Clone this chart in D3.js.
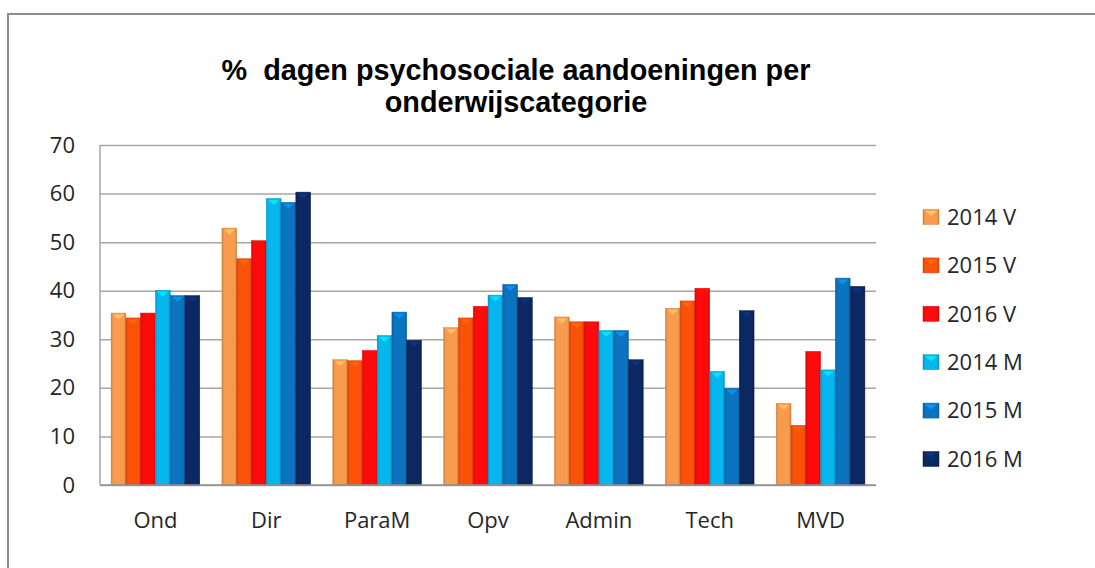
<!DOCTYPE html>
<html>
<head>
<meta charset="utf-8">
<script src="https://cdn.jsdelivr.net/npm/d3@7"></script>
<style>
  body { margin: 0; background: #fff; }
  text { font-family: 'Open Sans', sans-serif; fill: #262626; }
</style>
</head>
<body>
<svg id="chart" width="1095" height="568"></svg>
<script>
var categories = ['Ond', 'Dir', 'ParaM', 'Opv', 'Admin', 'Tech', 'MVD'];
var seriesNames = ['2014 V', '2015 V', '2016 V', '2014 M', '2015 M', '2016 M'];
var v2014V = [35.4, 52.9, 25.8, 32.4, 34.6, 36.4, 16.8];
var v2015V = [34.4, 46.6, 25.6, 34.4, 33.6, 37.9, 12.3];
var v2016V = [35.4, 50.3, 27.7, 36.8, 33.6, 40.5, 27.5];
var v2014M = [40.1, 59.0, 30.8, 39.1, 31.8, 23.4, 23.7];
var v2015M = [39.0, 58.2, 35.6, 41.3, 31.8, 19.9, 42.6];
var v2016M = [39.0, 60.3, 29.8, 38.6, 25.8, 35.9, 40.9];
var yTicks = [0, 10, 20, 30, 40, 50, 60, 70];
var colors = ['#f89b4e', '#fb520a', '#ff0a0a', '#06b6ee', '#0a74c0', '#0b2863'];

var seriesValues = [v2014V, v2015V, v2016V, v2014M, v2015M, v2016M];

var svg = d3.select('svg#chart');

// outer frame
svg.append('rect')
  .attr('x', 8)
  .attr('y', 14)
  .attr('width', 1100)
  .attr('height', 600)
  .style('fill', 'white')
  .style('stroke', '#8c8c8c')
  .style('stroke-width', 2);

var defs = svg.append('defs');
colors.forEach(function (c, i) {
  var g = defs.append('linearGradient')
    .attr('id', 'bar-grad-' + i)
    .attr('x1', '0%').attr('x2', '100%')
    .attr('y1', '0%').attr('y2', '0%');
  var dark = d3.color(c).darker(0.6);
  g.append('stop').attr('offset', '0%').attr('stop-color', dark);
  g.append('stop').attr('offset', '14%').attr('stop-color', c);
  g.append('stop').attr('offset', '86%').attr('stop-color', c);
  g.append('stop').attr('offset', '100%').attr('stop-color', dark);
});

var x0 = d3.scaleBand()
  .domain(categories)
  .range([100, 876])
  .paddingInner(0.2)
  .paddingOuter(0.1);

var x1 = d3.scaleBand()
  .domain(seriesNames)
  .range([0, x0.bandwidth()]);

var y = d3.scaleLinear()
  .domain([0, 70])
  .range([485, 145]);

// gridlines + y labels
var yAxis = svg.append('g')
  .attr('transform', 'translate(100,0)')
  .call(d3.axisLeft(y).tickValues(yTicks).tickSize(-776).tickPadding(25));
yAxis.select('.domain').remove();
yAxis.selectAll('.tick line')
  .style('stroke', '#a6a6a6')
  .style('stroke-width', 1.5);
yAxis.selectAll('.tick text')
  .style('font-size', '22px')
  .style('font-family', "'Open Sans', sans-serif")
  .style('fill', '#262626');

// bars
var groups = svg.selectAll('g.cat')
  .data(categories)
  .enter()
  .append('g')
    .attr('class', 'cat')
    .attr('transform', function (d) { return 'translate(' + x0(d) + ',0)'; });

var bars = groups.selectAll('g.bar')
  .data(function (d, ci) {
    return seriesNames.map(function (s, si) {
      return { series: s, idx: si, value: seriesValues[si][ci] };
    });
  })
  .enter()
  .append('g')
    .attr('class', 'bar');

bars.append('rect')
  .attr('x', function (d) { return x1(d.series); })
  .attr('y', function (d) { return y(d.value); })
  .attr('width', x1.bandwidth())
  .attr('height', function (d) { return y(0) - y(d.value); })
  .style('fill', function (d) { return 'url(#bar-grad-' + d.idx + ')'; })
  .style('stroke', function (d) { return d3.color(colors[d.idx]).darker(0.4); })
  .style('stroke-width', 0.5);

bars.append('path')
  .attr('d', function (d) {
    var bx = x1(d.series), w = x1.bandwidth(), ty = y(d.value);
    return 'M' + (bx + 2) + ',' + (ty + 1.5) +
      'L' + (bx + w - 2) + ',' + (ty + 1.5) +
      'L' + (bx + w / 2) + ',' + (ty + 6.5) + 'Z';
  })
  .style('fill', function (d) { return d3.color(colors[d.idx]).brighter(0.7); })
  .style('opacity', 0.9);

// axes lines
svg.append('line')
  .attr('x1', 100).attr('x2', 100)
  .attr('y1', y(70)).attr('y2', y(0))
  .style('stroke', '#a6a6a6')
  .style('stroke-width', 1.5);
svg.append('line')
  .attr('x1', 100).attr('x2', 876)
  .attr('y1', y(0)).attr('y2', y(0))
  .style('stroke', '#909090')
  .style('stroke-width', 1.5);

// x labels
svg.selectAll('text.cat-label')
  .data(categories)
  .enter()
  .append('text')
    .attr('class', 'cat-label')
    .attr('x', function (d) { return x0(d) + x0.bandwidth() / 2; })
    .attr('y', 528)
    .attr('text-anchor', 'middle')
    .style('font-size', '22px')
    .text(function (d) { return d; });

// title
var title = svg.append('text')
  .attr('x', 516)
  .attr('text-anchor', 'middle')
  .style('font-family', "'Liberation Sans', Arial, sans-serif")
  .style('font-weight', 'bold')
  .style('font-size', '28.8px')
  .style('fill', '#000');
title.append('tspan').attr('x', 516).attr('y', 80).text('%\u00a0 dagen psychosociale aandoeningen per');
title.append('tspan').attr('x', 516).attr('y', 112).text('onderwijscategorie');

// legend
var legend = svg.selectAll('g.legend')
  .data(seriesNames)
  .enter()
  .append('g')
    .attr('class', 'legend')
    .attr('transform', function (d, i) { return 'translate(923,' + (217 + i * 48.4) + ')'; });

legend.append('rect')
  .attr('x', 0)
  .attr('y', -7.5)
  .attr('width', 16)
  .attr('height', 15)
  .style('fill', function (d, i) { return 'url(#bar-grad-' + i + ')'; })
  .style('stroke', function (d, i) { return d3.color(colors[i]).darker(0.4); })
  .style('stroke-width', 0.5);

legend.append('path')
  .attr('d', 'M2,-6L14,-6L8,-1Z')
  .style('fill', function (d, i) { return d3.color(colors[i]).brighter(0.7); });

legend.append('text')
  .attr('x', 24)
  .attr('y', 0)
  .attr('dy', '0.35em')
  .style('font-size', '22px')
  .text(function (d) { return d; });
</script>
</body>
</html>
